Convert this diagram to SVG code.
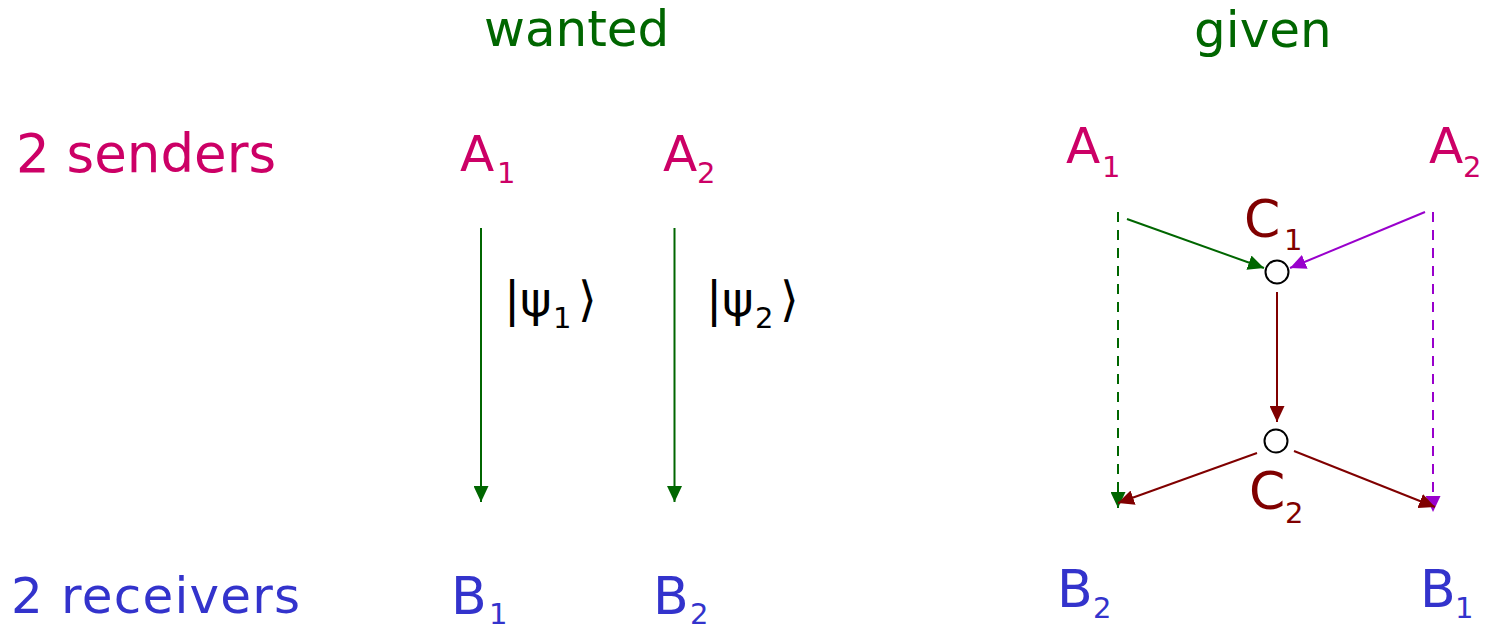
<svg xmlns="http://www.w3.org/2000/svg" width="1485" height="627" viewBox="0 0 1485 627">
<style>
text{font-family:"DejaVu Sans","Liberation Sans",sans-serif;}
.title{fill:#006600;font-size:50px;}
.snd{fill:#CC0066;}
.rcv{fill:#3333CC;}
.cl{fill:#800000;}
.big{font-size:50px;}
.sub{font-size:29px;}
.psi{fill:#000;font-size:48px;}
.g{stroke:#006600;stroke-width:2;fill:none;}
.p{stroke:#9900CC;stroke-width:2;fill:none;}
.r{stroke:#800000;stroke-width:2;fill:none;}
.d{stroke-dasharray:10,8;}
.node{fill:#fff;stroke:#000;stroke-width:2;}
</style>
<defs>
<marker id="ag" markerUnits="userSpaceOnUse" markerWidth="16" markerHeight="15" refX="16" refY="7.5" orient="auto"><path d="M0,0 L16,7.5 L0,15 z" fill="#006600"/></marker>
<marker id="ap" markerUnits="userSpaceOnUse" markerWidth="16" markerHeight="15" refX="16" refY="7.5" orient="auto"><path d="M0,0 L16,7.5 L0,15 z" fill="#9900CC"/></marker>
<marker id="ar" markerUnits="userSpaceOnUse" markerWidth="16" markerHeight="15" refX="16" refY="7.5" orient="auto"><path d="M0,0 L16,7.5 L0,15 z" fill="#800000"/></marker>
</defs>

<g id="labels">
<text class="title" x="484" y="46">wanted</text>
<text class="title" x="1194" y="47">given</text>
<text x="16" y="172" fill="#CC0066" font-size="53">2 senders</text>
<text x="11" y="613" fill="#3333CC" font-size="50" letter-spacing="1.2">2 receivers</text>
</g>

<g id="connectors">
<path class="g" d="M481,228 V502" marker-end="url(#ag)"/>
<path class="g" d="M674.5,228 V502" marker-end="url(#ag)"/>
<path class="g d" d="M1118,212 V508" marker-end="url(#ag)"/>
<path class="g" d="M1127,219 L1264,268" marker-end="url(#ag)"/>
<path class="p" d="M1425,212 L1290,268" marker-end="url(#ap)"/>
<path class="p d" d="M1433,212 V512" marker-end="url(#ap)"/>
<path class="r" d="M1277,292 V422" marker-end="url(#ar)"/>
<path class="r" d="M1257,453 L1118,503" marker-end="url(#ar)"/>
<path class="r" d="M1294,451 L1435,507" marker-end="url(#ar)"/>
</g>

<g id="psi1"><text class="psi"><tspan x="504" y="316">|</tspan><tspan x="520" y="316">ψ</tspan><tspan font-size="29" x="553" y="328">1</tspan><tspan x="578" y="316">⟩</tspan></text></g>
<g id="psi2"><text class="psi"><tspan x="706" y="316">|</tspan><tspan x="722" y="316">ψ</tspan><tspan font-size="29" x="755" y="328">2</tspan><tspan x="780" y="316">⟩</tspan></text></g>

<g id="wA1"><text class="snd big"><tspan x="460" y="171">A</tspan><tspan class="sub" x="497" y="183">1</tspan></text></g>
<g id="wA2"><text class="snd big"><tspan x="663" y="171">A</tspan><tspan class="sub" x="697" y="183">2</tspan></text></g>
<g id="wB1"><text class="rcv" font-size="52"><tspan x="451" y="614">B</tspan><tspan class="sub" x="489" y="624">1</tspan></text></g>
<g id="wB2"><text class="rcv" font-size="52"><tspan x="653" y="614">B</tspan><tspan class="sub" x="690" y="624">2</tspan></text></g>

<g id="gA1"><text class="snd big"><tspan x="1066" y="163">A</tspan><tspan class="sub" x="1102" y="177">1</tspan></text></g>
<g id="gA2"><text class="snd big"><tspan x="1429" y="163">A</tspan><tspan class="sub" x="1463" y="177">2</tspan></text></g>
<g id="gB2"><text class="rcv" font-size="52"><tspan x="1057" y="607">B</tspan><tspan class="sub" x="1093" y="618">2</tspan></text></g>
<g id="gB1"><text class="rcv" font-size="52"><tspan x="1420" y="607">B</tspan><tspan class="sub" x="1455" y="618">1</tspan></text></g>

<g id="C1"><circle class="node" cx="1277" cy="272" r="11.5"/><text class="cl" font-size="52"><tspan x="1244" y="237">C</tspan><tspan class="sub" x="1284" y="250">1</tspan></text></g>
<g id="C2"><circle class="node" cx="1276" cy="441" r="11.5"/><text class="cl" font-size="52"><tspan x="1249" y="509">C</tspan><tspan class="sub" x="1285" y="523">2</tspan></text></g>
</svg>
